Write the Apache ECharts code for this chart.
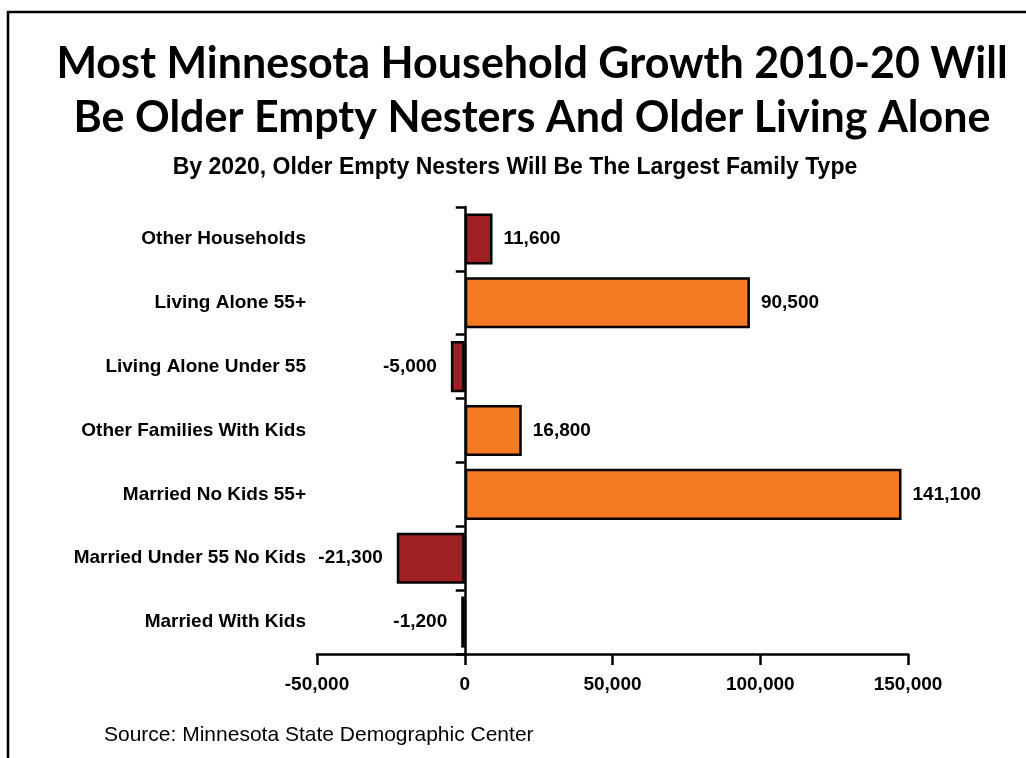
<!DOCTYPE html>
<html>
<head>
<meta charset="utf-8">
<script src="https://cdn.jsdelivr.net/npm/echarts@6/dist/echarts.min.js"></script>
<style>
  html, body { margin: 0; padding: 0; background: #ffffff; }
  #chart { width: 1026px; height: 758px; }
</style>
</head>
<body>
<div id="chart"></div>
<script>
// ---- Data (top to bottom) ----
const categories = [
  "Other Households",
  "Living Alone 55+",
  "Living Alone Under 55",
  "Other Families With Kids",
  "Married No Kids 55+",
  "Married Under 55 No Kids",
  "Married With Kids"
];
// bar lengths as drawn in the picture
const barValues = [9400, 96500, -4700, 19300, 147800, -23000, -1200];
// value labels as printed in the picture
const valueLabels = ["11,600", "90,500", "-5,000", "16,800", "141,100", "-21,300", "-1,200"];
const barColors = ["#9E1F24", "#F47A23", "#9E1F24", "#F47A23", "#F47A23", "#9E1F24", "#9E1F24"];
const xTicks = [-50000, 0, 50000, 100000, 150000];

const titleText = "Most Minnesota Household Growth 2010-20 Will\nBe Older Empty Nesters And Older Living Alone";
const subtitleText = "By 2020, Older Empty Nesters Will Be The Largest Family Type";
const sourceText = "Source: Minnesota State Demographic Center";

const chart = echarts.init(document.getElementById('chart'));

const seriesData = barValues.map((v, i) => ({
  value: v,
  itemStyle: { color: barColors[i] },
  label: {
    position: v >= 0 ? 'right' : 'left',
    distance: v >= 0 ? 11 : 14,
    formatter: () => valueLabels[i]
  }
}));

const option = {
  backgroundColor: '#ffffff',
  animation: false,
  title: [
    {
      text: titleText,
      left: 527, top: 32, textAlign: 'center',
      textStyle: { fontFamily: 'Lato', fontWeight: 'bold', fontSize: 43, lineHeight: 54, color: '#000' }
    },
    {
      text: subtitleText,
      left: 510, top: 151, textAlign: 'center',
      textStyle: { fontFamily: 'Liberation Sans', fontWeight: 'bold', fontSize: 23, color: '#000' }
    },
    {
      text: sourceText,
      left: 99, top: 720,
      textStyle: { fontFamily: 'Liberation Sans', fontWeight: 'normal', fontSize: 21, color: '#000' }
    }
  ],
  graphic: [
    {
      type: 'rect',
      shape: { x: 8, y: 12, width: 1040, height: 780 },
      style: { fill: 'none', stroke: '#000', lineWidth: 2.5 },
      silent: true
    }
  ],
  grid: { left: 317, right: 118, top: 207, bottom: 104, containLabel: false, outerBoundsMode: 'none' },
  xAxis: {
    type: 'value',
    min: -50000, max: 150000, interval: 50000,
    axisLine: { show: true, onZero: false, lineStyle: { color: '#000', width: 2.5 } },
    axisTick: { show: true, length: 11, lineStyle: { color: '#000', width: 2.5 } },
    splitLine: { show: false },
    axisLabel: {
      margin: 21,
      fontFamily: 'Liberation Sans', fontWeight: 'bold', fontSize: 19, color: '#000',
      formatter: v => xTicks.includes(v) ? v.toLocaleString('en-US') : ''
    }
  },
  yAxis: {
    type: 'category',
    data: categories,
    inverse: true,
    axisLine: { show: true, onZero: true, lineStyle: { color: '#000', width: 2.5 } },
    axisTick: { show: true, length: 9, interval: 0, lineStyle: { color: '#000', width: 2.5 } },
    axisLabel: {
      interval: 0, margin: 11,
      fontFamily: 'Liberation Sans', fontWeight: 'bold', fontSize: 19, color: '#000'
    },
    splitLine: { show: false }
  },
  series: [{
    type: 'bar',
    data: seriesData,
    barCategoryGap: '20%',
    itemStyle: { borderColor: '#000', borderWidth: 2.5 },
    label: {
      show: true,
      fontFamily: 'Liberation Sans', fontWeight: 'bold', fontSize: 19, color: '#000'
    }
  }]
};
chart.setOption(option);
</script>
</body>
</html>
